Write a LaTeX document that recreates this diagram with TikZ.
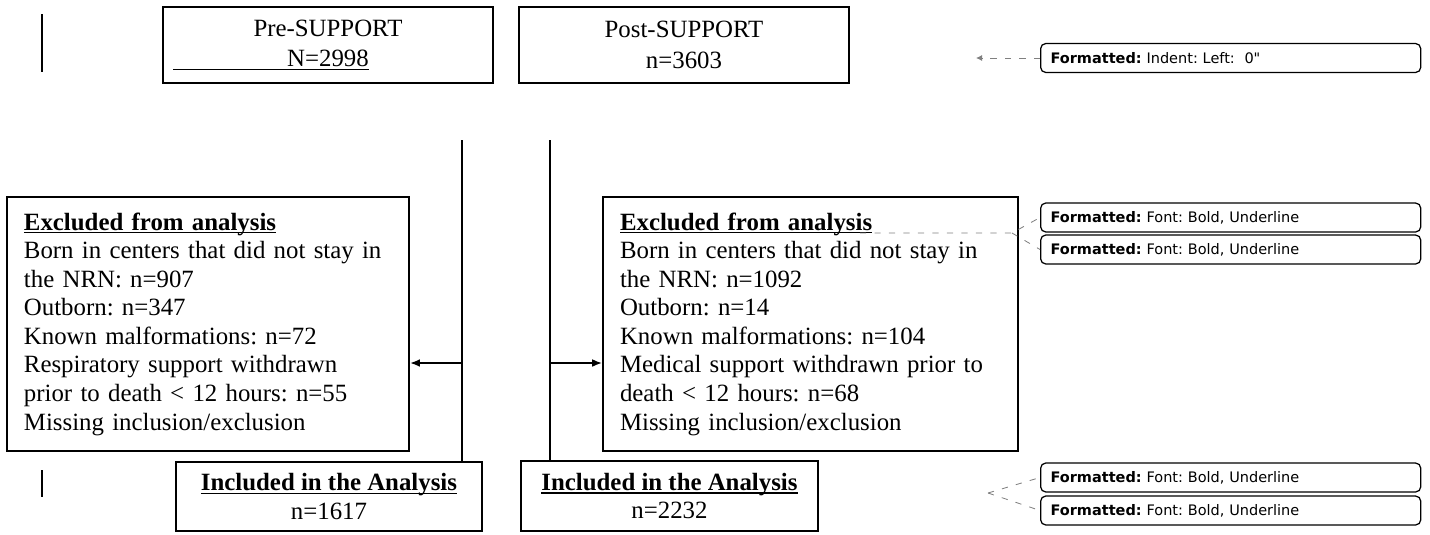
\documentclass[tikz,border=0pt]{standalone}
\usepackage{fontspec}
\setmainfont{Liberation Serif}
\newfontfamily\notefont{DejaVu Sans}
\usetikzlibrary{arrows.meta}
\frenchspacing
\newcommand{\ulword}[1]{\setbox0\hbox{#1}\rlap{\rule[-1.6pt]{\wd0}{0.6pt}}\box0}

\begin{document}
\begin{tikzpicture}[x=0.483pt,y=-0.483pt,
  box/.style={draw=black,line width=0.9pt,inner sep=0pt,font=\fontsize{12}{13.8}\selectfont},
  cohort/.style={box,minimum width=159.4pt,minimum height=36.7pt,align=center},
  excl/.style={box,minimum height=122.7pt,inner xsep=8.2pt,align=left},
  incl/.style={box,minimum height=33.5pt,align=center},
  note/.style={draw=black,line width=0.6pt,rounded corners=2.5pt,anchor=west,minimum height=14pt,inner xsep=4.8pt,text width=174pt,align=left,font=\notefont\fontsize{7}{8}\selectfont},
  link/.style={line width=0.9pt,-{Latex[length=4.8pt,width=3.8pt]}},
  notelink/.style={gray,line width=0.4pt,dash pattern=on 3pt off 4pt}]
\useasboundingbox (0,0) rectangle (1430,534);
\draw[line width=0.9pt] (42,14) -- (42,72);
\draw[line width=0.9pt] (42,470) -- (42,497);
\node (pre) at (328,45) [cohort]{Pre-SUPPORT\\[1pt]\llap{\rule[-1.6pt]{55pt}{0.6pt}}\ulword{N=2998}};
\node (post) at (684,45) [cohort]{Post-SUPPORT\\[1pt]n=3603};
\node (exc1) at (208,324) [excl][minimum width=194.2pt,text width=177.8pt]{\textbf{\ulword{Excluded from analysis}}\\
Born in centers that did not stay in\\
the NRN: n=907\\
Outborn: n=347\\
Known malformations: n=72\\
Respiratory support withdrawn\\
prior to death < 12 hours: n=55\\
Missing inclusion/exclusion};
\node (exc2) at (810.5,324) [excl][minimum width=200.4pt,text width=184pt]{\textbf{\ulword{Excluded from analysis}}\\
Born in centers that did not stay in\\
the NRN: n=1092\\
Outborn: n=14\\
Known malformations: n=104\\
Medical support withdrawn prior to\\
death < 12 hours: n=68\\
Missing inclusion/exclusion};
\node (inc1) at (329,496.5) [incl][minimum width=147.8pt]{\textbf{\ulword{Included in the Analysis}}\\n=1617};
\node (inc2) at (669.5,496) [incl][minimum width=143.4pt]{\textbf{\ulword{Included in the Analysis}}\\n=2232};
\coordinate (preTop) at (462,140);
\coordinate (postTop) at (550,140);
\coordinate (preMid) at (462,363);
\coordinate (postMid) at (550,363);
\draw[line width=0.9pt] (preTop) -- (preTop |- inc1.north);
\draw[line width=0.9pt] (postTop) -- (postTop |- inc2.north);
\draw[link] (preMid) -- (preMid -| exc1.east);
\draw[link] (postMid) -- (postMid -| exc2.west);
\node (n1) at (1040,58) [note]{\textbf{Formatted:} Indent: Left:\ \ 0"};
\node (n2) at (1040,217.5) [note]{\textbf{Formatted:} Font: Bold, Underline};
\node (n3) at (1040,249.5) [note]{\textbf{Formatted:} Font: Bold, Underline};
\node (n4) at (1040,477.5) [note]{\textbf{Formatted:} Font: Bold, Underline};
\node (n5) at (1040,510.5) [note]{\textbf{Formatted:} Font: Bold, Underline};
\coordinate (m1) at (976,58);
\coordinate (m2) at (860,233);
\coordinate (j2) at (1012,233);
\coordinate (j4) at (988,493);
\draw[notelink,-{Latex[length=3pt,width=3pt]}] (n1.west) -- (m1);
\draw[notelink] (m2) -- (j2) -- (n2.west);
\draw[notelink] (j2) -- (n3.west);
\draw[notelink] (j4) -- (n4.west);
\draw[notelink] (j4) -- (n5.west);
\end{tikzpicture}
\end{document}
